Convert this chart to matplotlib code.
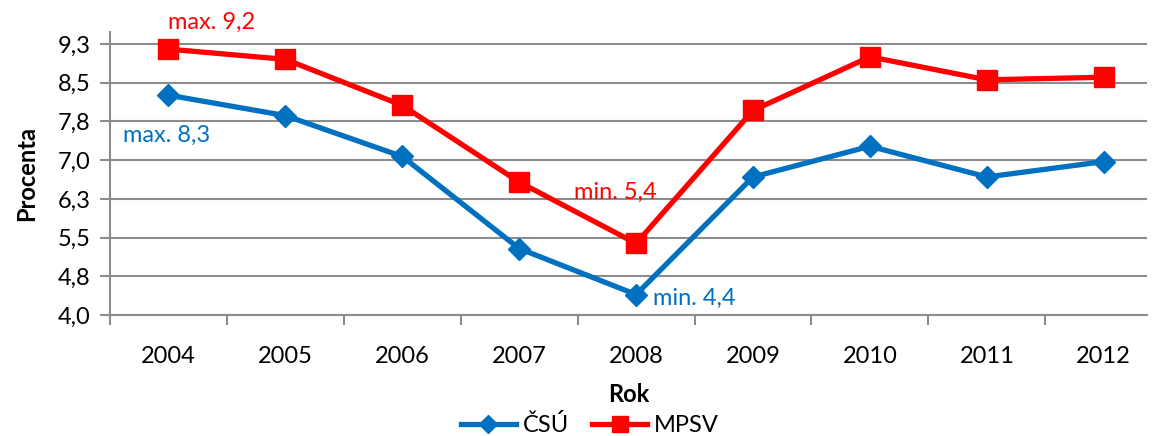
import matplotlib
matplotlib.use("Agg")
import matplotlib.pyplot as plt
import numpy as np

plt.rcParams['font.family'] = ['Lato', 'DejaVu Sans']

years = ["2004", "2005", "2006", "2007", "2008", "2009", "2010", "2011", "2012"]
csu = [8.3, 7.9, 7.1, 5.3, 4.4, 6.7, 7.3, 6.7, 7.0]
mpsv = [9.2, 9.0, 8.1, 6.6, 5.4, 8.0, 9.05, 8.6, 8.65]
y_ticks = np.linspace(4.0, 9.3, 8)

BLUE = "#0070C0"
RED = "#FF0000"
GRID = "#8C8C8C"
FS = 17

fig = plt.figure(figsize=(11.54, 4.36), dpi=100)
ax = fig.add_axes([110 / 1154, 121 / 436, (1147 - 110) / 1154, (404 - 121) / 436])

x = np.arange(len(years))
ax.plot(x, csu, color=BLUE, lw=3.8, marker="D", ms=11, label="ČSÚ", zorder=3)
ax.plot(x, mpsv, color=RED, lw=3.8, marker="s", ms=14, label="MPSV", zorder=3)

ax.set_xlim(-0.5, 8.37)
ax.set_ylim(4.0, 9.535)
ax.set_yticks(y_ticks)
ax.set_yticklabels([f"{v:.1f}".replace(".", ",") for v in y_ticks], fontsize=FS)
ax.set_xticks(x)
ax.set_xticklabels(years, fontsize=FS)
ax.set_xticks(np.arange(-0.5, 8.5, 1.0), minor=True)
ax.tick_params(axis="x", which="major", length=0, pad=22)
ax.tick_params(axis="x", which="minor", length=7, width=1.5, color=GRID, direction="out")
ax.tick_params(axis="y", length=7, width=1.5, color=GRID, direction="out", pad=7)

ax.grid(axis="y", color=GRID, lw=1.5, zorder=0)
for s in ["top", "right"]:
    ax.spines[s].set_visible(False)
for s in ["left", "bottom"]:
    ax.spines[s].set_color(GRID)
    ax.spines[s].set_linewidth(1.5)

ax.set_xlabel("Rok", fontsize=FS, fontweight="bold", labelpad=12)
ax.set_ylabel("Procenta", fontsize=FS, fontweight="bold", labelpad=14)

# annotate extremes
i_max_m, i_min_m = int(np.argmax(mpsv)), int(np.argmin(mpsv))
i_max_c, i_min_c = int(np.argmax(csu)), int(np.argmin(csu))
fmt = lambda v: f"{v:.1f}".replace(".", ",")
ax.annotate(f"max. {fmt(mpsv[i_max_m])}", (x[i_max_m], mpsv[i_max_m]), xytext=(31, 19),
            textcoords="offset points", color=RED, fontsize=FS, ha="center", va="center")
ax.annotate(f"max. {fmt(csu[i_max_c])}", (x[i_max_c], csu[i_max_c]), xytext=(-1.5, -29),
            textcoords="offset points", color=BLUE, fontsize=FS, ha="center", va="center")
ax.annotate(f"min. {fmt(mpsv[i_min_m])}", (x[i_min_m], mpsv[i_min_m]), xytext=(-15, 37),
            textcoords="offset points", color=RED, fontsize=FS, ha="center", va="center")
ax.annotate(f"min. {fmt(csu[i_min_c])}", (x[i_min_c], csu[i_min_c]), xytext=(42, -3),
            textcoords="offset points", color=BLUE, fontsize=FS, ha="center", va="center")

fig.legend(loc="center", bbox_to_anchor=(590 / 1154, 1 - 425 / 436), ncol=2, frameon=False,
           fontsize=FS, handlelength=2.3, columnspacing=1.0, handletextpad=0.3,
           markerscale=0.85, borderaxespad=0)

fig.savefig("out.png", dpi=100)
